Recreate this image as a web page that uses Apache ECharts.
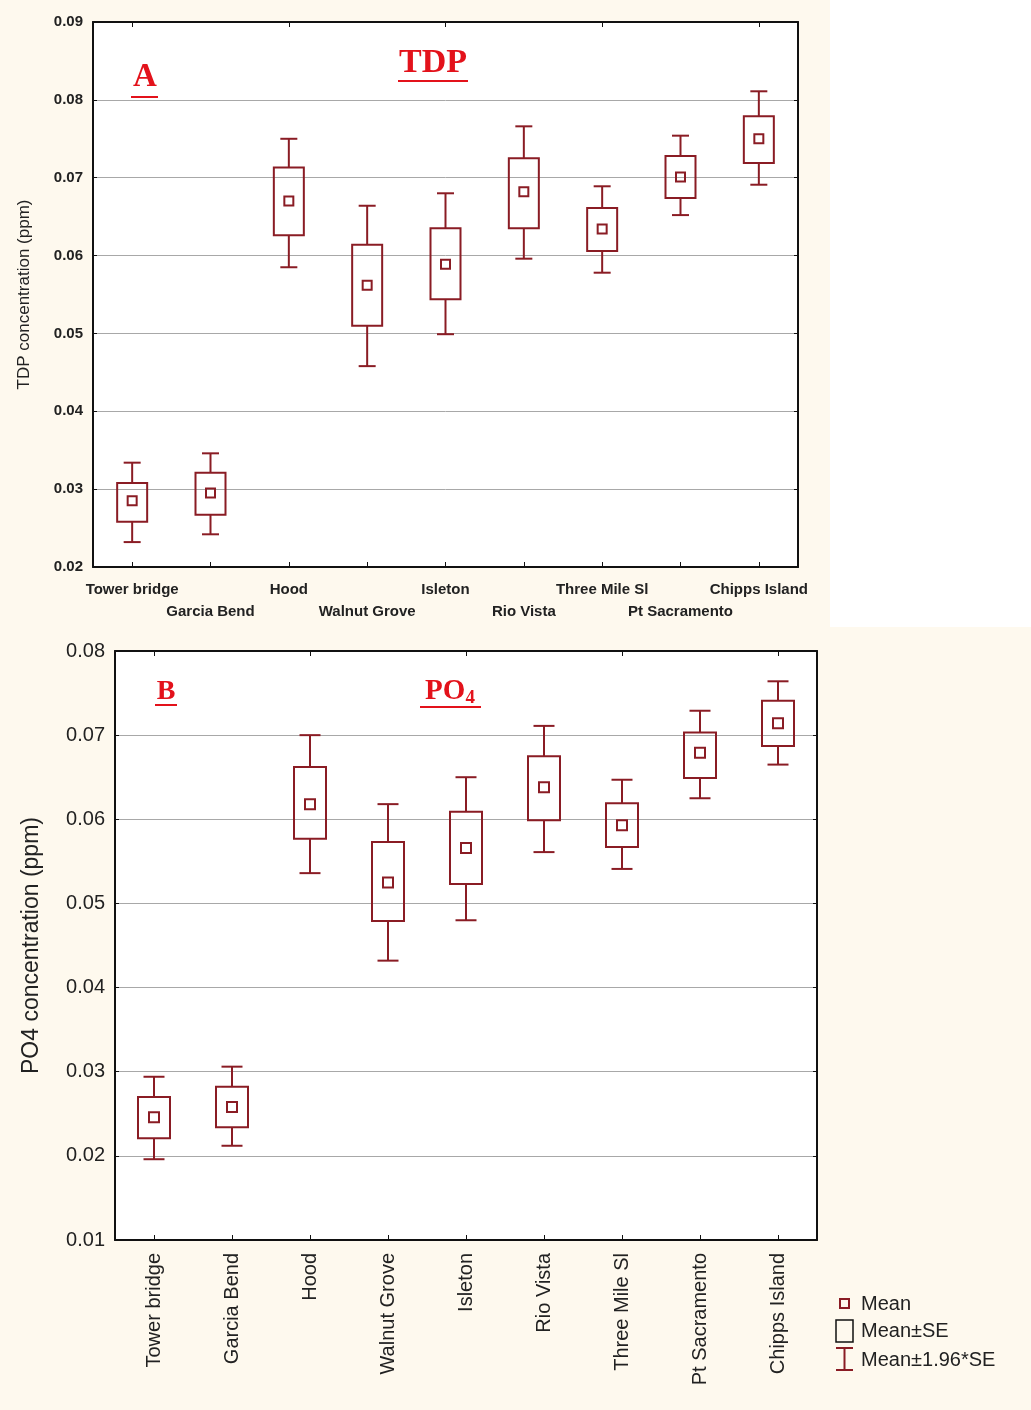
<!DOCTYPE html>
<html>
<head>
<meta charset="utf-8">
<script src="https://cdn.jsdelivr.net/npm/echarts@6/dist/echarts.min.js"></script>
<style>
  html, body { margin: 0; padding: 0; background: #fff; }
  #chart { width: 1031px; height: 1410px; }
</style>
</head>
<body>
<div id="chart"></div>
<script>
    'use strict';

    // sampling sites, upstream to downstream
    var sites = ['Tower bridge', 'Garcia Bend', 'Hood', 'Walnut Grove', 'Isleton',
                 'Rio Vista', 'Three Mile Sl', 'Pt Sacramento', 'Chipps Island'];

    // panel A: TDP (ppm)
    var tdpMean   = [0.0285, 0.0295, 0.0670, 0.0562, 0.0589, 0.0682, 0.0634, 0.0701, 0.0750];
    var tdpSeLow  = [0.0258, 0.0267, 0.0626, 0.0510, 0.0544, 0.0635, 0.0606, 0.0674, 0.0719];
    var tdpSeHigh = [0.0308, 0.0321, 0.0713, 0.0614, 0.0635, 0.0725, 0.0661, 0.0728, 0.0779];
    var tdpCiLow  = [0.0232, 0.0242, 0.0585, 0.0458, 0.0499, 0.0596, 0.0578, 0.0652, 0.0691];
    var tdpCiHigh = [0.0334, 0.0346, 0.0750, 0.0664, 0.0680, 0.0766, 0.0689, 0.0754, 0.0811];

    // panel B: PO4 (ppm)
    var po4Mean   = [0.0246, 0.0258, 0.0618, 0.0525, 0.0566, 0.0638, 0.0593, 0.0679, 0.0714];
    var po4SeLow  = [0.0221, 0.0234, 0.0577, 0.0479, 0.0523, 0.0599, 0.0567, 0.0649, 0.0687];
    var po4SeHigh = [0.0270, 0.0282, 0.0662, 0.0573, 0.0609, 0.0675, 0.0619, 0.0703, 0.0741];
    var po4CiLow  = [0.0196, 0.0212, 0.0536, 0.0432, 0.0480, 0.0561, 0.0541, 0.0625, 0.0665];
    var po4CiHigh = [0.0294, 0.0306, 0.0700, 0.0618, 0.0650, 0.0711, 0.0647, 0.0729, 0.0764];

    var boxColor = '#8a1c24';
    var titleRed = '#e3121b';
    var sansFont = '"Liberation Sans", Arial, sans-serif';
    var serifFont = '"Liberation Serif", "Times New Roman", serif';

    function rows(mean, seLo, seHi, ciLo, ciHi) {
        return sites.map(function(s, i) {
            return [i, ciLo[i], seLo[i], mean[i], seHi[i], ciHi[i]];
        });
    }

    // box = mean +/- SE, whiskers = mean +/- 1.96*SE, small square = mean
    function boxRenderer(boxW, capW, dotW) {
        return function(params, api) {
            var i = api.value(0);
            var x = api.coord([i, api.value(3)])[0];
            var ciLo = api.coord([i, api.value(1)])[1];
            var seLo = api.coord([i, api.value(2)])[1];
            var mean = api.coord([i, api.value(3)])[1];
            var seHi = api.coord([i, api.value(4)])[1];
            var ciHi = api.coord([i, api.value(5)])[1];
            var st = { stroke: boxColor, lineWidth: 2, fill: null };
            return {
                type: 'group',
                children: [
                    { type: 'line', shape: { x1: x, y1: ciHi, x2: x, y2: seHi }, style: st },
                    { type: 'line', shape: { x1: x, y1: seLo, x2: x, y2: ciLo }, style: st },
                    { type: 'line', shape: { x1: x - capW / 2, y1: ciHi, x2: x + capW / 2, y2: ciHi }, style: st },
                    { type: 'line', shape: { x1: x - capW / 2, y1: ciLo, x2: x + capW / 2, y2: ciLo }, style: st },
                    { type: 'rect', shape: { x: x - boxW / 2, y: seHi, width: boxW, height: seLo - seHi }, style: st },
                    { type: 'rect', shape: { x: x - dotW / 2, y: mean - dotW / 2, width: dotW, height: dotW }, style: st }
                ]
            };
        };
    }

    function frameAxisX(grid, pos) {
        return {
            type: 'category', gridIndex: grid, position: pos, data: sites,
            boundaryGap: true,
            axisLine: { show: true, lineStyle: { color: '#111', width: 2 } },
            axisTick: { show: true, inside: true, length: 5, alignWithLabel: true, lineStyle: { color: '#111' } },
            axisLabel: { show: false },
            splitLine: { show: false }
        };
    }

    function frameAxisY(grid, min, max) {
        return {
            type: 'value', gridIndex: grid, position: 'right', min: min, max: max, interval: 0.01,
            axisLine: { show: true, lineStyle: { color: '#111', width: 2 } },
            axisTick: { show: true, inside: true, length: 4, lineStyle: { color: '#111' } },
            axisLabel: { show: false },
            splitLine: { show: false }
        };
    }

    var chart = echarts.init(document.getElementById('chart'));

    var option = {
        backgroundColor: '#ffffff',
        animation: false,
        grid: [
            { left: 93, top: 22, right: 233, bottom: 843, show: true, backgroundColor: '#ffffff', borderWidth: 0 },
            { left: 115, top: 651, right: 214, bottom: 170, show: true, backgroundColor: '#ffffff', borderWidth: 0 }
        ],
        xAxis: [
            {
                type: 'category', gridIndex: 0, position: 'bottom', data: sites,
                boundaryGap: true,
                axisLine: { show: true, lineStyle: { color: '#111', width: 2 } },
                axisTick: { show: true, inside: true, length: 5, alignWithLabel: true, lineStyle: { color: '#111' } },
                axisLabel: {
                    interval: 0, margin: 12, color: '#222', fontFamily: sansFont, fontWeight: 'bold',
                    fontSize: 15, lineHeight: 22,
                    formatter: function(v, idx) { return idx % 2 ? '\n' + v : v; }
                }
            },
            frameAxisX(0, 'top'),
            {
                type: 'category', gridIndex: 1, position: 'bottom', data: sites,
                boundaryGap: true,
                axisLine: { show: true, lineStyle: { color: '#111', width: 2 } },
                axisTick: { show: true, inside: true, length: 5, alignWithLabel: true, lineStyle: { color: '#111' } },
                axisLabel: {
                    interval: 0, rotate: 90, margin: 13, color: '#222', fontFamily: sansFont, fontSize: 20
                }
            },
            frameAxisX(1, 'top')
        ],
        yAxis: [
            {
                type: 'value', gridIndex: 0, min: 0.02, max: 0.09, interval: 0.01,
                name: 'TDP concentration (ppm)', nameLocation: 'middle', nameGap: 60,
                nameTextStyle: { color: '#222', fontFamily: sansFont, fontSize: 17 },
                axisLine: { show: true, lineStyle: { color: '#111', width: 2 } },
                axisTick: { show: true, inside: true, length: 4, lineStyle: { color: '#111' } },
                axisLabel: {
                    margin: 10, color: '#222', fontFamily: sansFont, fontWeight: 'bold', fontSize: 15,
                    formatter: function(v) { return v.toFixed(2); }
                },
                splitLine: { show: true, lineStyle: { color: '#a8a8a8', width: 1 } }
            },
            frameAxisY(0, 0.02, 0.09),
            {
                type: 'value', gridIndex: 1, min: 0.01, max: 0.08, interval: 0.01,
                name: 'PO4 concentration (ppm)', nameLocation: 'middle', nameGap: 72,
                nameTextStyle: { color: '#222', fontFamily: sansFont, fontSize: 23 },
                axisLine: { show: true, lineStyle: { color: '#111', width: 2 } },
                axisTick: { show: true, inside: true, length: 4, lineStyle: { color: '#111' } },
                axisLabel: {
                    margin: 10, color: '#222', fontFamily: sansFont, fontSize: 20,
                    formatter: function(v) { return v.toFixed(2); }
                },
                splitLine: { show: true, lineStyle: { color: '#a8a8a8', width: 1 } }
            },
            frameAxisY(1, 0.01, 0.08)
        ],
        series: [
            {
                type: 'custom', name: 'TDP', xAxisIndex: 0, yAxisIndex: 0,
                renderItem: boxRenderer(30, 17, 9),
                data: rows(tdpMean, tdpSeLow, tdpSeHigh, tdpCiLow, tdpCiHigh),
                z: 5
            },
            {
                type: 'custom', name: 'PO4', xAxisIndex: 2, yAxisIndex: 2,
                renderItem: boxRenderer(32, 21, 10),
                data: rows(po4Mean, po4SeLow, po4SeHigh, po4CiLow, po4CiHigh),
                z: 5
            }
        ],
        graphic: [
            // cream page areas
            { type: 'rect', z: -10, silent: true, shape: { x: 0, y: 0, width: 830, height: 627 }, style: { fill: '#fef9ee' } },
            { type: 'rect', z: -10, silent: true, shape: { x: 0, y: 627, width: 1031, height: 783 }, style: { fill: '#fef9ee' } },

            // panel labels
            { type: 'text', z: 10, style: { x: 145, y: 77, text: 'A', fill: titleRed, font: 'bold 33px ' + serifFont, align: 'center', verticalAlign: 'middle' } },
            { type: 'line', z: 10, shape: { x1: 131, y1: 97, x2: 158, y2: 97 }, style: { stroke: titleRed, lineWidth: 2 } },
            { type: 'text', z: 10, style: { x: 433, y: 63, text: 'TDP', fill: titleRed, font: 'bold 34px ' + serifFont, align: 'center', verticalAlign: 'middle' } },
            { type: 'line', z: 10, shape: { x1: 398, y1: 81, x2: 468, y2: 81 }, style: { stroke: titleRed, lineWidth: 2 } },

            { type: 'text', z: 10, style: { x: 166, y: 692, text: 'B', fill: titleRed, font: 'bold 28px ' + serifFont, align: 'center', verticalAlign: 'middle' } },
            { type: 'line', z: 10, shape: { x1: 155, y1: 705, x2: 177, y2: 705 }, style: { stroke: titleRed, lineWidth: 2 } },
            {
                type: 'text', z: 10,
                style: {
                    x: 450, y: 692, text: '{a|PO}{s|4}', align: 'center', verticalAlign: 'middle',
                    rich: {
                        a: { fill: titleRed, font: 'bold 29px ' + serifFont },
                        s: { fill: titleRed, font: 'bold 19px ' + serifFont, padding: [12, 0, 0, 0] }
                    }
                }
            },
            { type: 'line', z: 10, shape: { x1: 420, y1: 707, x2: 481, y2: 707 }, style: { stroke: titleRed, lineWidth: 2 } },

            // legend
            { type: 'rect', z: 10, shape: { x: 840, y: 1299, width: 9, height: 9 }, style: { stroke: boxColor, lineWidth: 2, fill: null } },
            { type: 'text', z: 10, style: { x: 861, y: 1304, text: 'Mean', fill: '#222', font: '20px ' + sansFont, verticalAlign: 'middle' } },
            { type: 'rect', z: 10, shape: { x: 836, y: 1320, width: 17, height: 22 }, style: { stroke: '#111', lineWidth: 1.5, fill: null } },
            { type: 'text', z: 10, style: { x: 861, y: 1331, text: 'Mean±SE', fill: '#222', font: '20px ' + sansFont, verticalAlign: 'middle' } },
            { type: 'line', z: 10, shape: { x1: 844.5, y1: 1348, x2: 844.5, y2: 1370 }, style: { stroke: boxColor, lineWidth: 2 } },
            { type: 'line', z: 10, shape: { x1: 836, y1: 1348, x2: 853, y2: 1348 }, style: { stroke: boxColor, lineWidth: 2 } },
            { type: 'line', z: 10, shape: { x1: 836, y1: 1370, x2: 853, y2: 1370 }, style: { stroke: boxColor, lineWidth: 2 } },
            { type: 'text', z: 10, style: { x: 861, y: 1360, text: 'Mean±1.96*SE', fill: '#222', font: '20px ' + sansFont, verticalAlign: 'middle' } }
        ]
    };

    chart.setOption(option);
</script>
</body>
</html>
